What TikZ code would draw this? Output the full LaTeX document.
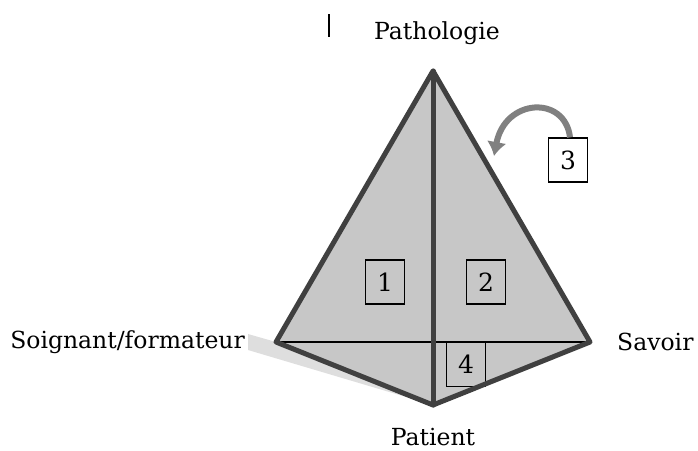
\documentclass[tikz,border=0pt]{standalone}
\usepackage{fontspec}
\setmainfont{DejaVu Serif}
\usetikzlibrary{arrows.meta}
\begin{document}
\begin{tikzpicture}[x=1pt,y=-1pt,
  lbl/.style={font=\fontsize{23.5}{26}\selectfont, inner sep=0pt},
  numbox/.style={draw=black, line width=1.3pt, minimum width=39pt, minimum height=44pt, inner sep=0pt, font=\fontsize{25}{28}\selectfont},
  edge/.style={draw=black!75, line width=5pt, line join=round, line cap=round}]
\useasboundingbox (0,0) rectangle (698,450);
\coordinate (A) at (433,71);
\coordinate (L) at (276,342);
\coordinate (R) at (590,342);
\coordinate (B) at (433,405);
\coordinate (S1) at (248,334);
\coordinate (S2) at (248,350);
% shadow
\fill[black!13] (S1) -- (L) -- (B) -- (S2) -- cycle;
% faces
\fill[black!22] (A) -- (L) -- (B) -- (R) -- cycle;
\draw[black, line width=1.6pt] (L) -- (R);
\node[numbox] (n1) at (385,282) {1};
\node[numbox] (n2) at (486,282) {2};
\node[numbox, anchor=north] (n4) at (466,342) {4};
\draw[edge] (A) -- (L) -- (B) -- (R) -- cycle;
\draw[edge] (A) -- (B);
\node[numbox, fill=white] (n3) at (568,160) {3};
\coordinate (tip) at (494,156);
\draw[black!50, line width=6pt, -{Latex[length=14pt,width=20pt]}] ([xshift=2pt]n3.north) .. controls (565,95) and (505,98) .. (tip);
% labels
\node[lbl] (tA) at (437,33) {Pathologie};
\node[lbl, anchor=east] (tL) at (245,342) {Soignant/formateur};
\node[lbl, anchor=west] (tR) at (617,342) {Savoir};
\node[lbl] (tB) at (433,437) {Patient};
\coordinate (v1) at (329,14);
\coordinate (v2) at (329,37);
\draw[black, line width=1.3pt] (v1) -- (v2);
\end{tikzpicture}
\end{document}
